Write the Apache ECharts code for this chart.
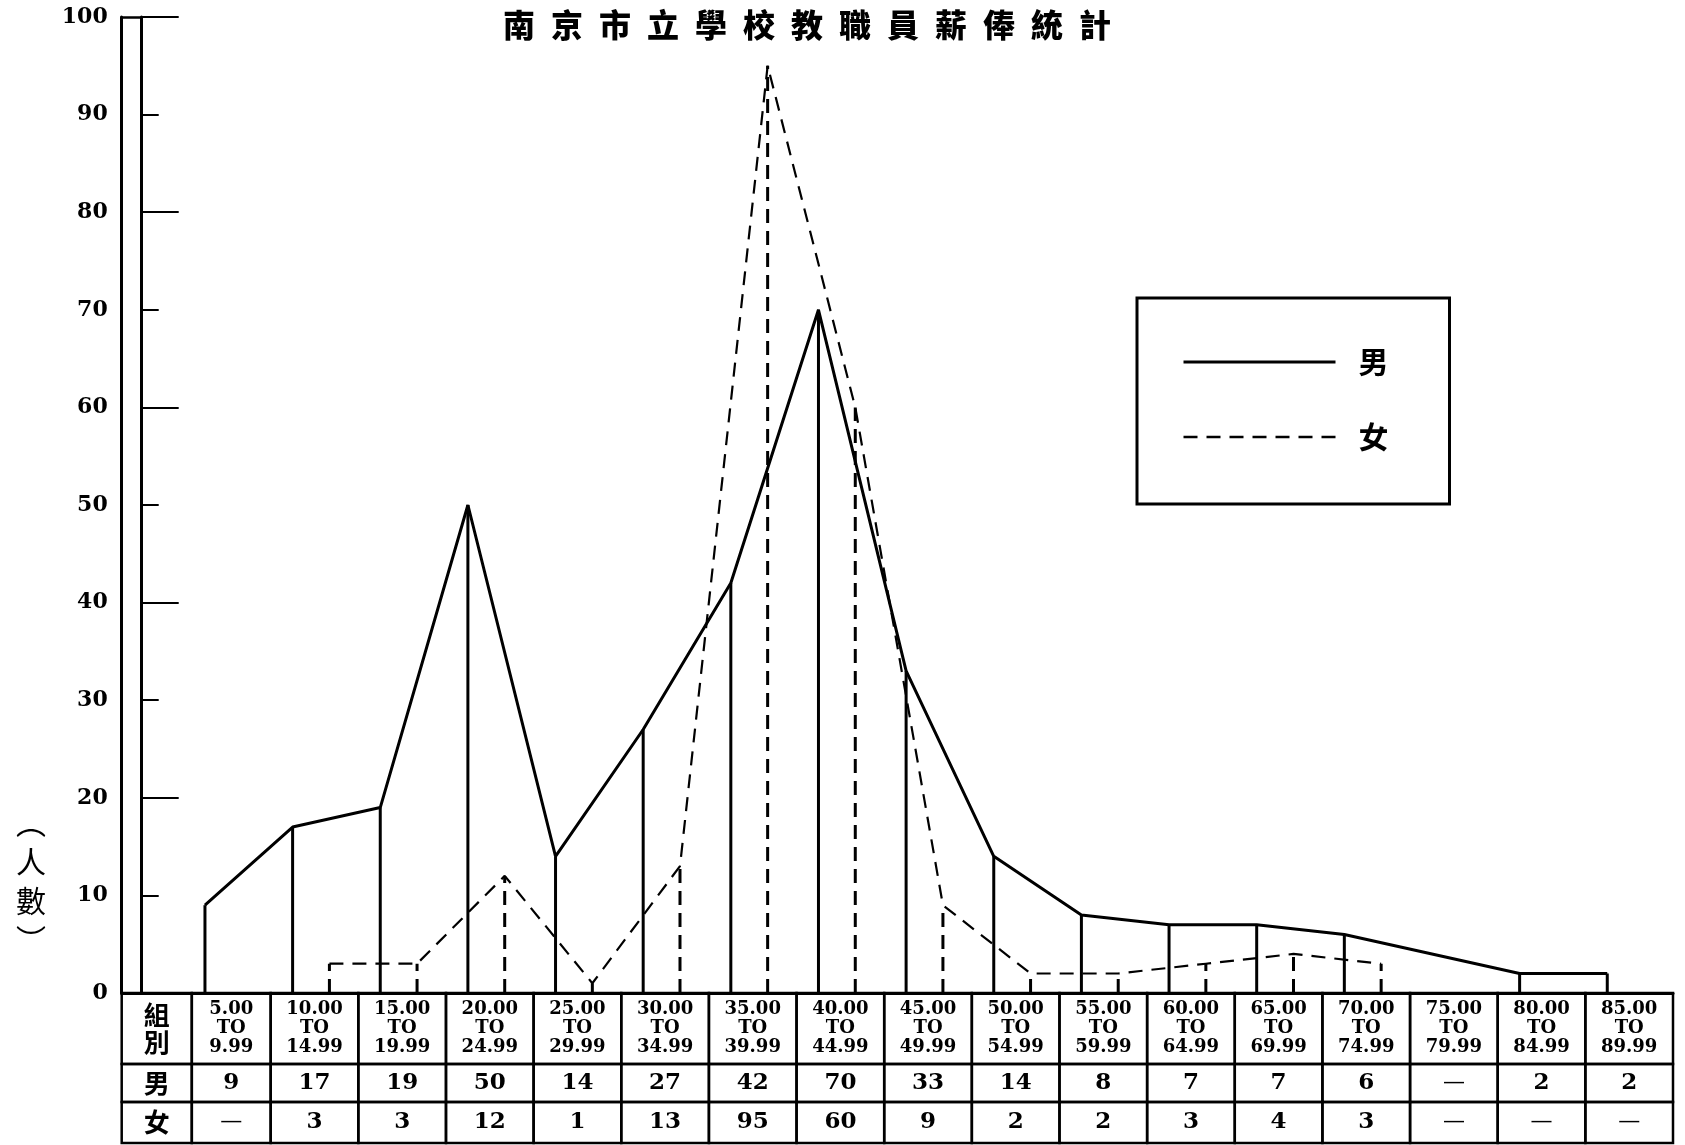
<!DOCTYPE html>
<html><head><meta charset="utf-8">
<script src="https://cdn.jsdelivr.net/npm/echarts@6/dist/echarts.min.js"></script>
<style>html,body{margin:0;padding:0;background:#fff}#c{width:1685px;height:1145px}</style>
</head><body><div id="c"></div>
<script>
// ---- data ----
const titleText = '南京市立學校教職員薪俸統計';
const yName = ['︵', '人', '數', '︶'];
const rangeFrom = ['5.00','10.00','15.00','20.00','25.00','30.00','35.00','40.00','45.00','50.00','55.00','60.00','65.00','70.00','75.00','80.00','85.00'];
const rangeTo = ['9.99','14.99','19.99','24.99','29.99','34.99','39.99','44.99','49.99','54.99','59.99','64.99','69.99','74.99','79.99','84.99','89.99'];
const male = [9,17,19,50,14,27,42,70,33,14,8,7,7,6,null,2,2];
const female = [null,3,3,12,1,13,95,60,9,2,2,3,4,3,null,null,null];
const rowHeaders = ['組\n別', '男', '女'];
const seriesNames = ['男', '女'];
const yMin = 0, yMax = 100, yStep = 10;

// ---- layout ----
const L = {
  left: 121.7, right: 12, top: 17, bottom: 152,
  tableTop: 993, tableHeight: 150,
  xMin: -0.7, xMax: 17, firstEdge: 0.1,
  maleOff: 0.25, femaleOff: 0.67,
  rowEdges: [0, 71, 109, 150]
};
const serif = 'DejaVu Serif';
const cjk = 'Noto Sans CJK TC';

const chart = echarts.init(document.getElementById('c'));

const malePts = male.map((v, i) => v == null ? null : [i + L.maleOff, v]).filter(d => d);
const femalePts = female.map((v, i) => v == null ? null : [i + L.femaleOff, v]).filter(d => d);

// table cells
const cells = [], cellText = [], cellKind = [];
for (let c = -1; c < rangeFrom.length; c++) {
  for (let r = 0; r < 3; r++) {
    cells.push([c, r]);
    let t, k;
    if (c < 0) { t = rowHeaders[r]; k = 'cjk'; }
    else if (r === 0) { t = rangeFrom[c] + '\nTO\n' + rangeTo[c]; k = 'head'; }
    else {
      const v = (r === 1 ? male : female)[c];
      if (v == null) { t = '—'; k = 'dash'; } else { t = String(v); k = 'num'; }
    }
    cellText.push(t); cellKind.push(k);
  }
}
const fontFor = {
  cjk: { fontFamily: cjk, fontWeight: 'bold', fontSize: 26, lineHeight: 27 },
  head: { fontFamily: serif, fontWeight: 'bold', fontSize: 18, lineHeight: 19 },
  num: { fontFamily: serif, fontWeight: 'bold', fontSize: 23, lineHeight: 24 },
  dash: { fontFamily: serif, fontWeight: 'normal', fontSize: 22, lineHeight: 22 }
};

function dropLine(dashed) {
  return function (params, api) {
    const x = api.value(0), y = api.value(1);
    const p0 = api.coord([x, 0]), p1 = api.coord([x, y]);
    return {
      type: 'line',
      shape: { x1: p0[0], y1: p0[1], x2: p1[0], y2: p1[1] },
      style: { stroke: '#000', lineWidth: 3, lineDash: dashed ? [14, 8] : null }
    };
  };
}

chart.setOption({
  animation: false,
  backgroundColor: '#fff',
  title: {
    text: titleText.split('').join('\u2002'),
    left: 498, top: 4,
    textStyle: { fontFamily: cjk, fontWeight: 900, fontSize: 32, color: '#000' }
  },
  legend: {
    data: [
      { name: seriesNames[0], lineStyle: { width: 3 } },
      { name: seriesNames[1], lineStyle: { width: 2.5 } }
    ],
    orient: 'vertical',
    left: 1137, top: 298,
    itemWidth: 152, itemHeight: 14, itemGap: 45,
    padding: [49, 61, 52, 45],
    borderColor: '#000', borderWidth: 3,
    itemStyle: { opacity: 0 },
    textStyle: { fontFamily: cjk, fontWeight: 'bold', fontSize: 30, color: '#000', padding: [0, 0, 0, 18] },
    selectedMode: false
  },
  graphic: [{
    type: 'text', left: 16, top: 803,
    style: { text: yName.join('\n'), fontFamily: cjk, fontSize: 30, lineHeight: 39, fill: '#000', align: 'center' }
  }],
  grid: [
    { left: L.left, right: L.right, top: L.top, bottom: L.bottom },
    { left: L.left, right: L.right, top: L.tableTop, height: L.tableHeight }
  ],
  xAxis: [
    { type: 'value', gridIndex: 0, min: L.xMin, max: L.xMax,
      axisLine: { show: true, onZero: false, lineStyle: { color: '#000', width: 3 } },
      axisTick: { show: false }, axisLabel: { show: false }, splitLine: { show: false } },
    { type: 'value', gridIndex: 1, min: L.xMin, max: L.xMax, show: false, splitLine: { show: false } }
  ],
  yAxis: [
    { type: 'value', gridIndex: 0, position: 'left', offset: -20, min: yMin, max: yMax, interval: yStep,
      axisLine: { show: true, onZero: false, lineStyle: { color: '#000', width: 3 } },
      axisTick: { show: true, inside: true, length: 17, lineStyle: { color: '#000', width: 2 } },
      axisLabel: { show: true, margin: 34, color: '#000', fontFamily: serif, fontWeight: 'bold', fontSize: 22 },
      splitLine: { show: false } },
    { type: 'value', gridIndex: 0, position: 'left', offset: -20, min: yMin, max: yMax, interval: yStep * 2,
      axisLine: { show: false, onZero: false },
      axisTick: { show: true, inside: true, length: 37, lineStyle: { color: '#000', width: 2 } },
      axisLabel: { show: false }, splitLine: { show: false } },
    { type: 'value', gridIndex: 0, position: 'left', offset: 0, min: yMin, max: yMax, interval: yMax,
      axisLine: { show: true, onZero: false, lineStyle: { color: '#000', width: 3 } },
      axisTick: { show: true, inside: true, length: 20, lineStyle: { color: '#000', width: 2.5 } },
      axisLabel: { show: false }, splitLine: { show: false } },
    { type: 'value', gridIndex: 1, min: 0, max: L.tableHeight, inverse: true, show: false, splitLine: { show: false } }
  ],
  series: [
    { name: seriesNames[0], type: 'line', xAxisIndex: 0, yAxisIndex: 0, data: malePts,
      symbol: 'none', lineStyle: { color: '#000', width: 3, type: 'solid' }, itemStyle: { color: '#000' }, z: 3 },
    { name: seriesNames[1], type: 'line', xAxisIndex: 0, yAxisIndex: 0, data: femalePts,
      symbol: 'none', lineStyle: { color: '#000', width: 2.2, type: [14, 9] }, itemStyle: { color: '#000' }, z: 3 },
    { name: 'maleDrop', type: 'custom', xAxisIndex: 0, yAxisIndex: 0, data: malePts, renderItem: dropLine(false), z: 2 },
    { name: 'femaleDrop', type: 'custom', xAxisIndex: 0, yAxisIndex: 0, data: femalePts, renderItem: dropLine(true), z: 2 },
    { name: 'table', type: 'custom', xAxisIndex: 1, yAxisIndex: 3, data: cells, clip: false,
      renderItem: function (params, api) {
        const c = api.value(0), r = api.value(1);
        const x0 = c < 0 ? L.xMin : (c === 0 ? L.firstEdge : c);
        const x1 = c < 0 ? L.firstEdge : c + 1;
        const p0 = api.coord([x0, L.rowEdges[r]]), p1 = api.coord([x1, L.rowEdges[r + 1]]);
        const f = fontFor[cellKind[params.dataIndex]];
        return { type: 'group', children: [
          { type: 'rect', shape: { x: p0[0], y: p0[1], width: p1[0] - p0[0], height: p1[1] - p0[1] },
            style: { fill: null, stroke: '#000', lineWidth: 2.5 } },
          { type: 'text', x: (p0[0] + p1[0]) / 2, y: (p0[1] + p1[1]) / 2,
            style: Object.assign({ text: cellText[params.dataIndex], fill: '#000', align: 'center', verticalAlign: 'middle' }, f) }
        ] };
      } }
  ]
});
</script>
</body></html>
